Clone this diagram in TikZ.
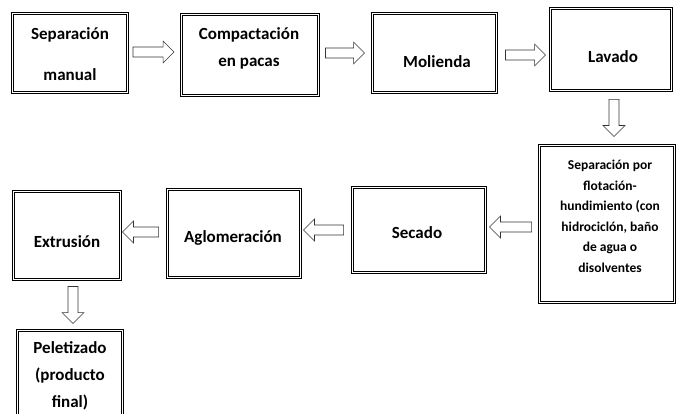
\documentclass[tikz,border=0pt]{standalone}
\usepackage{fontspec}
\setmainfont{Carlito}
\usetikzlibrary{calc}

\tikzset{
  caja/.style={draw, line width=0.9pt, double, double distance=1.4pt, inner sep=0pt},
  texto/.style={font=\bfseries\fontsize{17}{27}\selectfont, align=center, inner sep=0.75pt},
  textochico/.style={font=\bfseries\fontsize{13.5}{20.5}\selectfont, align=center, inner sep=0.75pt},
  flecha/.style={draw=black!80, line width=0.6pt, fill=white, line join=miter},
}

% hollow block arrow from #1 to #2
\newcommand{\bloqueflecha}[2]{%
  \coordinate (fa) at #1;
  \coordinate (fb) at #2;
  \coordinate (fh) at ($(fb)!11pt!(fa)$);
  \draw[flecha] ($(fa)!5pt!90:(fb)$) -- ($(fh)!5pt!90:(fb)$) -- ($(fh)!11pt!90:(fb)$) -- (fb)
    -- ($(fh)!11pt!-90:(fb)$) -- ($(fh)!5pt!-90:(fb)$) -- ($(fa)!5pt!-90:(fb)$) -- cycle;
}

\begin{document}
\begin{tikzpicture}[x=1pt,y=1pt,yscale=-1,xscale=1]
\useasboundingbox (0,0) rectangle (676,414);

%Boxes
\node[caja, minimum width=115, minimum height=79] (sepman) at (70,53) {};
\node[caja, minimum width=137, minimum height=81] (compac) at (250,55) {};
\node[caja, minimum width=124, minimum height=79] (molienda) at (434.5,53) {};
\node[caja, minimum width=121, minimum height=82] (lavado) at (611,49.5) {};
\node[caja, minimum width=135, minimum height=157] (flotacion) at (607,224) {};
\node[caja, minimum width=133, minimum height=85] (secado) at (419,230) {};
\node[caja, minimum width=133, minimum height=88] (aglo) at (234,233.5) {};
\node[caja, minimum width=107, minimum height=88] (extrusion) at (67,235.5) {};
\node[caja, minimum width=105, minimum height=93] (pelet) at (70,377) {};

% Text Node
\node[texto] (t-sepman) at (70,54.5) {Separación\\[14pt]manual};
% Text Node
\node[texto] (t-compac) at (249,48.5) {Compactación\\en pacas};
% Text Node
\node[texto] (t-molienda) at (437,62) {Molienda};
% Text Node
\node[texto] (t-lavado) at (613,57) {Lavado};
% Text Node
\node[textochico] (t-flotacion) at (610,216.5) {Separación por\\flotación-\\hundimiento (con\\hidrociclón, baño\\de agua o\\disolventes};
% Text Node
\node[texto] (t-secado) at (417,233) {Secado};
% Text Node
\node[texto] (t-aglo) at (233,238) {Aglomeración};
% Text Node
\node[texto] (t-extrusion) at (67,242) {Extrusión};
% Text Node
\node[texto] (t-pelet) at (70,376) {Peletizado\\(producto\\final)};

%Block arrows
\bloqueflecha{($(sepman.east)+(5,-1)$)}{($(sepman.east -| compac.west)+(-7,-1)$)}
\bloqueflecha{($(compac.east)+(6.5,-2)$)}{($(compac.east -| molienda.west)+(-7.5,-2)$)}
\bloqueflecha{($(molienda.east)+(8.5,2)$)}{($(molienda.east -| lavado.west)+(-4.5,2)$)}
\bloqueflecha{($(lavado.south)+(3,8.5)$)}{($(lavado.south |- flotacion.north)+(3,-8.5)$)}
\bloqueflecha{($(flotacion.west)+(-7.5,3)$)}{($(flotacion.west -| secado.east)+(3.5,3)$)}
\bloqueflecha{($(secado.west)+(-8.5,0)$)}{($(secado.west -| aglo.east)+(2.5,0)$)}
\bloqueflecha{($(aglo.west)+(-8.5,-1.5)$)}{($(aglo.west -| extrusion.east)+(1.5,-1.5)$)}
\bloqueflecha{($(extrusion.south)+(6,6.5)$)}{($(extrusion.south |- pelet.north)+(6,-6.5)$)}

\end{tikzpicture}
\end{document}
